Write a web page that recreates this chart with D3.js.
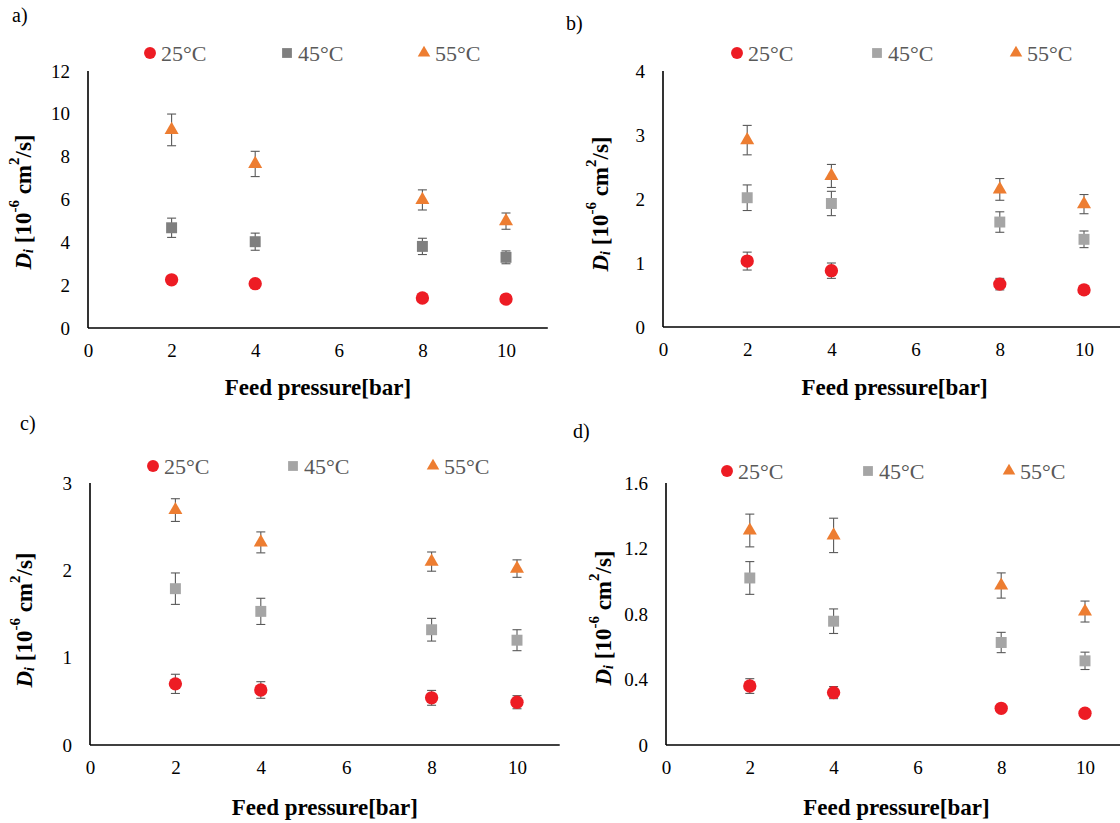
<!DOCTYPE html>
<html><head><meta charset="utf-8">
<script src="https://cdn.jsdelivr.net/npm/d3@7"></script>
<style>html,body{margin:0;padding:0;background:#fff;}svg{display:block;}</style>
</head><body>
<svg id="chart" width="1120" height="823"></svg>
<script>
// ---------- DATA ----------
const pressures = [2, 4, 8, 10];
const xTicks = [0, 2, 4, 6, 8, 10];
const seriesNames = ["25°C", "45°C", "55°C"];
const panelLabels = ["a)", "b)", "c)", "d)"];

// panel a
const a25 = [2.25, 2.07, 1.40, 1.35];
const a25err = [0.12, 0.10, 0.08, 0.08];
const a45 = [4.68, 4.03, 3.81, 3.30];
const a45err = [0.45, 0.40, 0.38, 0.30];
const a55 = [9.25, 7.66, 5.98, 4.99];
const a55err = [0.74, 0.59, 0.47, 0.38];
const aTicks = [0, 2, 4, 6, 8, 10, 12];
const aTickLabels = ["0", "2", "4", "6", "8", "10", "12"];

// panel b
const b25 = [1.03, 0.88, 0.67, 0.58];
const b25err = [0.14, 0.12, 0.09, 0.07];
const b45 = [2.02, 1.93, 1.64, 1.37];
const b45err = [0.20, 0.19, 0.16, 0.13];
const b55 = [2.92, 2.36, 2.15, 1.92];
const b55err = [0.23, 0.18, 0.17, 0.15];
const bTicks = [0, 1, 2, 3, 4];
const bTickLabels = ["0", "1", "2", "3", "4"];

// panel c
const c25 = [0.70, 0.63, 0.54, 0.49];
const c25err = [0.11, 0.095, 0.085, 0.075];
const c45 = [1.79, 1.53, 1.32, 1.20];
const c45err = [0.18, 0.15, 0.13, 0.12];
const c55 = [2.69, 2.32, 2.10, 2.02];
const c55err = [0.13, 0.12, 0.11, 0.10];
const cTicks = [0, 1, 2, 3];
const cTickLabels = ["0", "1", "2", "3"];

// panel d
const d25 = [0.36, 0.32, 0.224, 0.194];
const d25err = [0.045, 0.037, 0.02, 0.015];
const d45 = [1.02, 0.756, 0.626, 0.514];
const d45err = [0.10, 0.075, 0.062, 0.053];
const d55 = [1.31, 1.28, 0.974, 0.815];
const d55err = [0.10, 0.105, 0.077, 0.064];
const dTicks = [0, 0.4, 0.8, 1.2, 1.6];
const dTickLabels = ["0", "0.4", "0.8", "1.2", "1.6"];

// ---------- STYLE / LAYOUT ----------
const RED = "#ed1c24", ORANGE = "#ed7d31", GRAY_D = "#7f7f7f", GRAY_L = "#a5a5a5";
const FONT = "'Liberation Serif','Times New Roman',serif";

const panels = [
  { label: panelLabels[0], lx: 12, ly: 22, x0: 88, x10: 506, yB: 328, yT: 71, ticks: aTicks, tickLabels: aTickLabels,
    series: [[a25, a25err], [a45, a45err], [a55, a55err]], gray: GRAY_D,
    leg: [150, 287, 424], legY: 53, titleY: 395, ytx: 23, yty: 202 },
  { label: panelLabels[1], lx: 566, ly: 30, x0: 663, x10: 1084, yB: 327, yT: 71, ticks: bTicks, tickLabels: bTickLabels,
    series: [[b25, b25err], [b45, b45err], [b55, b55err]], gray: GRAY_L,
    leg: [737, 877, 1016], legY: 53, titleY: 395, ytx: 600, yty: 204 },
  { label: panelLabels[2], lx: 20, ly: 430, x0: 90, x10: 517, yB: 745, yT: 483, ticks: cTicks, tickLabels: cTickLabels,
    series: [[c25, c25err], [c45, c45err], [c55, c55err]], gray: GRAY_L,
    leg: [153, 293, 433], legY: 466, titleY: 815, ytx: 24, yty: 620 },
  { label: panelLabels[3], lx: 573, ly: 438, x0: 666, x10: 1085, yB: 745, yT: 483, ticks: dTicks, tickLabels: dTickLabels,
    series: [[d25, d25err], [d45, d45err], [d55, d55err]], gray: GRAY_L,
    leg: [727, 868, 1009], legY: 471, titleY: 815, ytx: 603, yty: 618 }
];

const svg = d3.select("#chart");

panels.forEach(p => {
  const g = svg.append("g");
  const unit = (p.x10 - p.x0) / 10;
  const x = d3.scaleLinear().domain([0, 11]).range([p.x0, p.x0 + 11 * unit]);
  const yMax = p.ticks[p.ticks.length - 1];
  const y = d3.scaleLinear().domain([0, yMax]).range([p.yB, p.yT]);

  // panel label
  g.append("text").attr("x", p.lx).attr("y", p.ly).text(p.label)
    .attr("font-family", FONT).attr("font-size", 20).attr("fill", "#000");

  // y axis
  const ya = g.append("g").attr("transform", `translate(${p.x0},0)`)
    .call(d3.axisLeft(y).tickValues(p.ticks).tickFormat((d, i) => p.tickLabels[i]).tickSize(0).tickPadding(18));
  ya.select(".domain").remove();
  ya.selectAll("text").attr("font-family", FONT).attr("font-size", 19).attr("fill", "#000");

  // x axis
  const xa = g.append("g").attr("transform", `translate(0,${p.yB})`)
    .call(d3.axisBottom(x).tickValues(xTicks).tickFormat(d3.format("d")).tickSize(0).tickPadding(16));
  xa.select(".domain").remove();
  xa.selectAll("text").attr("font-family", FONT).attr("font-size", 19).attr("fill", "#000");

  // axis lines
  g.append("line").attr("x1", x(0)).attr("x2", x(0)).attr("y1", y(yMax)).attr("y2", y(0))
    .attr("stroke", "#000").attr("stroke-width", 1.6);
  g.append("line").attr("x1", x(0)).attr("x2", x(11)).attr("y1", y(0)).attr("y2", y(0))
    .attr("stroke", "#000").attr("stroke-width", 1.6);

  // x title
  g.append("text").attr("x", (x(0) + x(11)) / 2).attr("y", p.titleY)
    .attr("text-anchor", "middle").attr("font-family", FONT).attr("font-size", 23)
    .attr("font-weight", "bold").text("Feed pressure[bar]");

  // y title
  const yt = g.append("text").attr("transform", `translate(${p.ytx},${p.yty}) rotate(-90)`)
    .attr("text-anchor", "middle").attr("dominant-baseline", "central")
    .attr("font-family", FONT).attr("font-size", 23).attr("font-weight", "bold");
  yt.append("tspan").attr("font-style", "italic").text("D");
  yt.append("tspan").attr("font-style", "italic").attr("font-size", 14).attr("dy", 5).text("i");
  yt.append("tspan").attr("dy", -5).text(" [10");
  yt.append("tspan").attr("font-size", 15).attr("dy", -9).text("-6");
  yt.append("tspan").attr("dy", 9).text(" cm");
  yt.append("tspan").attr("font-size", 15).attr("dy", -9).text("2");
  yt.append("tspan").attr("dy", 9).text("/s]");

  const colors = [RED, p.gray, ORANGE];
  const shapes = [d3.symbolCircle, d3.symbolSquare, d3.symbolTriangle];
  const sizes = [140, 120, 85];

  // error bars then markers
  p.series.forEach(([vals, errs]) => {
    const eg = g.append("g").attr("stroke", "#595959").attr("stroke-width", 1.1);
    pressures.forEach((pr, i) => {
      const cx = x(pr), yt1 = y(vals[i] + errs[i]), yb1 = y(vals[i] - errs[i]);
      eg.append("line").attr("x1", cx).attr("x2", cx).attr("y1", yt1).attr("y2", yb1);
      eg.append("line").attr("x1", cx - 4.5).attr("x2", cx + 4.5).attr("y1", yt1).attr("y2", yt1);
      eg.append("line").attr("x1", cx - 4.5).attr("x2", cx + 4.5).attr("y1", yb1).attr("y2", yb1);
    });
  });
  p.series.forEach(([vals], si) => {
    g.append("g").selectAll("path").data(pressures).join("path")
      .attr("transform", (d, i) => `translate(${x(d)},${y(vals[i])})`)
      .attr("d", d3.symbol().type(shapes[si]).size(sizes[si]))
      .attr("fill", colors[si]);
  });

  // legend
  seriesNames.forEach((name, si) => {
    const lx = p.leg[si];
    g.append("path").attr("transform", `translate(${lx},${p.legY})`)
      .attr("d", d3.symbol().type(shapes[si]).size(sizes[si] * 0.8)).attr("fill", colors[si]);
    g.append("text").attr("x", lx + 11).attr("y", p.legY).attr("dominant-baseline", "central")
      .attr("font-family", FONT).attr("font-size", 22).attr("fill", "#595959").text(name);
  });
});
</script>
</body></html>
